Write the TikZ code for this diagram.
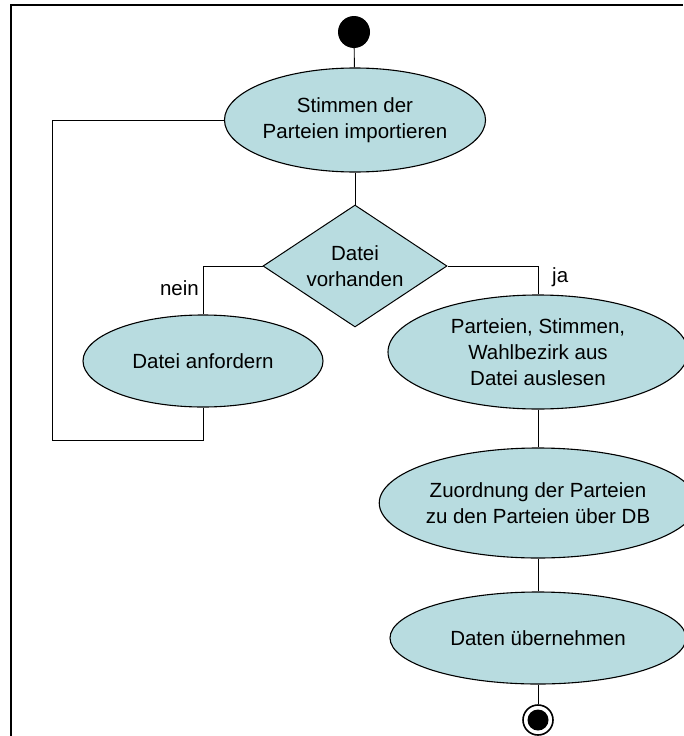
\documentclass[tikz,border=0pt]{standalone}
\usepackage{fontspec}
\setmainfont{Liberation Sans}
\usetikzlibrary{shapes.geometric}
\definecolor{actfill}{HTML}{B8DCE0}
\begin{document}
\begin{tikzpicture}[x=1pt,y=-1pt,
  every node/.style={font=\fontsize{20.5}{26}\selectfont},
  activity/.style={ellipse,draw=black,line width=1.1pt,fill=actfill,inner sep=0pt,align=center},
  decision/.style={diamond,aspect=1.6,draw=black,line width=1pt,fill=actfill,inner sep=0pt,align=center},
  flow/.style={draw=black,line width=0.9pt},
  guard/.style={inner sep=0pt}]
\useasboundingbox (0,0) rectangle (683,736);
% frame
\draw[line width=2pt] (11,736) -- (11,5) -- (683,5);

% start and end
\node[circle,fill=black,minimum size=32pt,inner sep=0pt] (start) at (354,32) {};
\node[circle,draw=black,line width=1.6pt,fill=white,minimum size=30pt,inner sep=0pt] (stop) at (538,720) {};
\node[circle,fill=black,minimum size=21pt,inner sep=0pt] (stopdot) at (538,720) {};

% activities
\node[activity,minimum width=258pt,minimum height=104pt] (import) at (355,120) {Stimmen der\\Parteien importieren};
\node[decision,minimum width=184pt,minimum height=122pt] (check) at (355,266) {Datei\\vorhanden};
\node[activity,minimum width=240pt,minimum height=92pt] (request) at (203,361) {Datei anfordern};
\node[activity,minimum width=300pt,minimum height=114pt] (read) at (538,352) {Parteien, Stimmen,\\Wahlbezirk aus\\Datei auslesen};
\node[activity,minimum width=304pt,minimum height=110pt] (assign) at (538,503) {Zuordnung der Parteien\\zu den Parteien über DB};
\node[activity,minimum width=296pt,minimum height=92pt] (accept) at (538,638) {Daten übernehmen};

% loop corners
\coordinate (noturn) at (203,266);
\coordinate (yesturn) at (538,266);
\coordinate (loopa) at (203,440);
\coordinate (loopb) at (52,440);
\coordinate (loopc) at (52,120);

% connectors
\draw[flow] (start) -- (import);
\draw[flow] (import) -- (check);
\draw[flow] (check.west) -- (noturn) -- (request.north);
\draw[flow] (check.east) -- (yesturn) -- (read.north);
\draw[flow] (request.south) -- (loopa) -- (loopb) -- (loopc) -- (import.west);
\draw[flow] (read) -- (assign);
\draw[flow] (assign) -- (accept);
\draw[flow] (accept) -- (stop);

% guards
\node[guard,anchor=east] (nein) at (199,288) {nein};
\node[guard,anchor=west] (ja) at (552,277) {ja};
\end{tikzpicture}
\end{document}
